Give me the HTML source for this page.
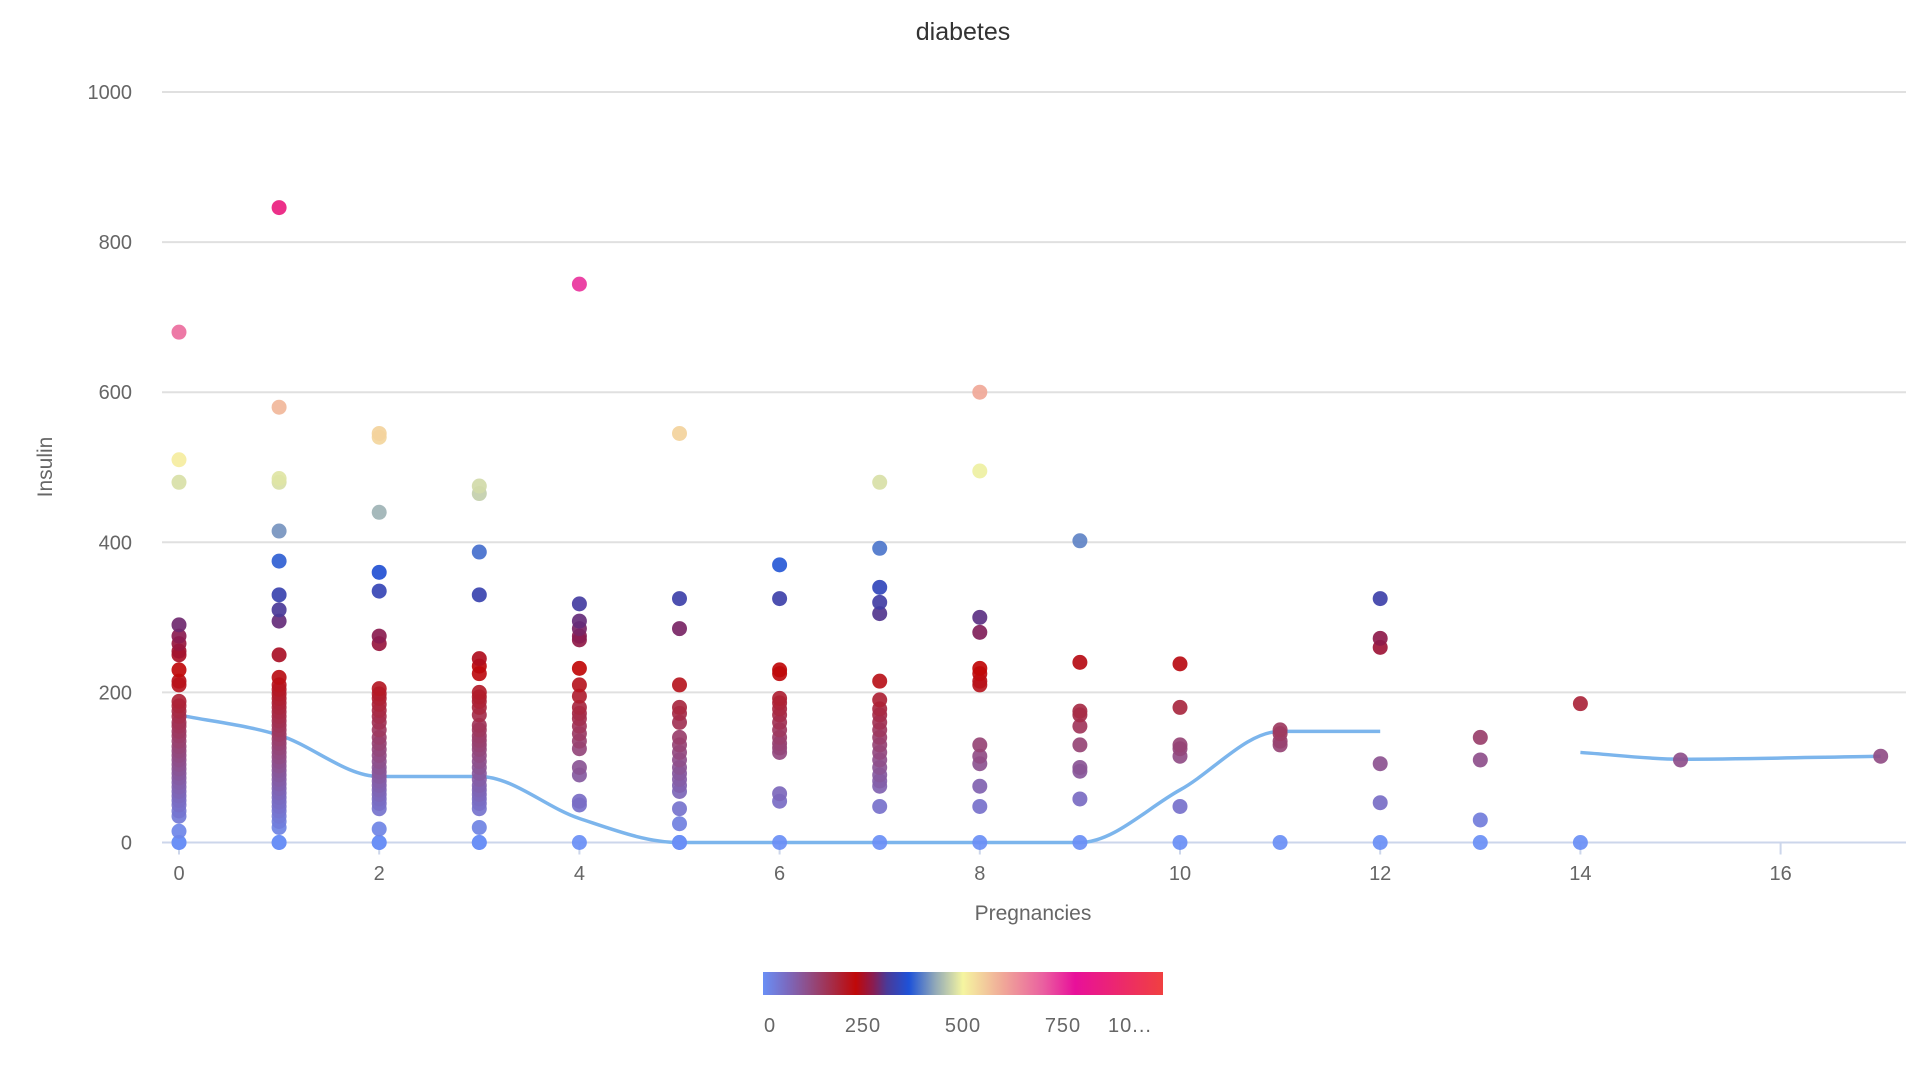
<!DOCTYPE html>
<html><head><meta charset="utf-8"><style>
html,body{margin:0;padding:0;background:#fff;width:1920px;height:1080px;overflow:hidden}
svg{display:block;font-family:"Liberation Sans","DejaVu Sans",sans-serif}
</style></head><body>
<svg id="chart" width="1920" height="1080">
<defs><linearGradient id="cb" x1="0" x2="1" y1="0" y2="0"></linearGradient></defs>
<text x="963" y="40" text-anchor="middle" font-size="25" fill="#333">diabetes</text>
<g id="grid"></g><g id="axes"></g><g id="line"></g><g id="pts"></g><g id="legend"></g>
<text x="1033" y="920" text-anchor="middle" font-size="21" fill="#666">Pregnancies</text>
<text transform="translate(52,467) rotate(-90)" text-anchor="middle" font-size="21" fill="#666">Insulin</text>
</svg>
<script>
const colPreg = [0,1,2,3,4,5,6,7,8,9,10,11,12,13,14,15,17];
const colInsulin = [
 [0,0,15,35,42,50,56,62,68,74,80,86,92,98,104,110,116,122,128,135,142,148,155,160,168,175,182,188,210,215,230,250,255,265,275,290,480,510,680],
 [0,0,20,28,35,42,48,54,60,66,72,78,84,90,96,102,108,114,120,126,132,138,144,150,156,162,168,174,180,186,192,198,204,210,220,250,295,310,330,375,415,480,485,580,846],
 [0,0,18,45,52,58,64,70,76,82,88,94,100,108,116,124,132,140,150,160,168,176,184,192,198,205,265,275,335,360,440,540,545],
 [0,0,20,45,52,58,64,70,76,84,92,100,108,116,124,130,136,142,150,156,170,180,188,194,200,225,235,245,330,387,465,475],
 [0,50,55,90,100,125,135,145,155,165,172,180,195,210,232,270,275,285,295,318,744],
 [0,0,25,45,68,76,84,92,100,110,120,130,140,160,172,180,210,285,325,545],
 [0,55,65,120,126,132,140,150,160,170,178,186,192,225,230,325,370],
 [0,48,75,82,90,100,110,120,130,140,150,160,170,178,190,215,305,320,340,392,480],
 [0,48,75,105,115,130,210,215,225,232,280,300,495,600],
 [0,58,95,100,130,155,170,175,240,402],
 [0,48,115,125,130,180,238],
 [0,130,135,145,150],
 [0,53,105,260,272,325],
 [0,30,110,140],
 [0,185],
 [110],
 [115]
];
const trendX = [0,1,2,3,4,5,6,7,8,9,10,11,12,null,14,15,17];
const trendY = [170,143,88,88,32,0,0,0,0,0,70,148,148,null,120,111,115];
const yTicks = [0,200,400,600,800,1000];
const xTicks = [0,2,4,6,8,10,12,14,16];
const cbLabels = ["0","250","500","750","10..."];
const cbValues = [0,250,500,750,1000];

const NS="http://www.w3.org/2000/svg";
const X0=179, XU=100.1, Y0=842.5, YU=0.7505;
const xs=v=>X0+v*XU, ys=v=>Y0-v*YU;
const stops=[[0,"#6a8ff5"],[60,"#7a6ac0"],[120,"#924a80"],[180,"#a82840"],[232,"#c00808"],[275,"#8a1c50"],[310,"#4a3a98"],[365,"#1e52d8"],[430,"#90a8b8"],[500,"#f5f5a0"],[600,"#f0a898"],[700,"#ea60a0"],[780,"#e8109a"],[1000,"#f04040"]];
function hex(h){return [1,3,5].map(i=>parseInt(h.substr(i,2),16));}
function color(v){
 for(let i=0;i<stops.length-1;i++){const a=stops[i],b=stops[i+1];
  if(v<=b[0]){const t=(v-a[0])/(b[0]-a[0]);const ca=hex(a[1]),cb=hex(b[1]);
   return "rgb("+ca.map((c,k)=>Math.round(c+(cb[k]-c)*t)).join(",")+")";}}
 return stops[stops.length-1][1];}
function mk(tag,attrs,parent){const e=document.createElementNS(NS,tag);for(const k in attrs)e.setAttribute(k,attrs[k]);parent.appendChild(e);return e;}

const grid=document.getElementById('grid'), axes=document.getElementById('axes');
yTicks.forEach(v=>{
 const l=mk('line',{x1:162,x2:1906,y1:ys(v),y2:ys(v),stroke:v===0?"#ccd6eb":"#e0e0e0","stroke-width":2},grid);
 
 
 const t=mk('text',{x:132,y:ys(v)+7,"text-anchor":"end","font-size":20,fill:"#666"},axes);
 t.textContent=v;
 
 
});
xTicks.forEach(v=>{
 const l=mk('line',{x1:xs(v),x2:xs(v),y1:Y0,y2:Y0+12,stroke:"#ccd6eb","stroke-width":2},axes);
 
 
 const t=mk('text',{x:xs(v),y:880,"text-anchor":"middle","font-size":20,fill:"#666"},axes);
 t.textContent=v;
 
 
});

const line=document.getElementById('line');
let segs=[],cur=[];
trendX.forEach((x,i)=>{if(x===null){if(cur.length)segs.push(cur);cur=[];}else cur.push([xs(x),ys(trendY[i])]);});
if(cur.length)segs.push(cur);
segs.forEach(p=>{
 const n=p.length;const d=[],m=[];
 for(let i=0;i<n-1;i++)d.push((p[i+1][1]-p[i][1])/(p[i+1][0]-p[i][0]));
 for(let i=0;i<n;i++){if(i===0)m.push(d[0]||0);else if(i===n-1)m.push(d[n-2]);else m.push(d[i-1]*d[i]<=0?0:(d[i-1]+d[i])/2);}
 let s="M"+p[0][0]+","+p[0][1];
 for(let i=0;i<n-1;i++){const h=(p[i+1][0]-p[i][0])/3;
  s+=" C"+(p[i][0]+h)+","+(p[i][1]+m[i]*h)+" "+(p[i+1][0]-h)+","+(p[i+1][1]-m[i+1]*h)+" "+p[i+1][0]+","+p[i+1][1];}
 const e=mk('path',{d:s,fill:"none",stroke:"#7cb5ec","stroke-width":3.5},line);
 
 
});

const pts=document.getElementById('pts');
colPreg.forEach((px,i)=>{
 colInsulin[i].forEach(v=>{
  const c=mk('circle',{cx:xs(px),cy:ys(v),r:7.5,fill:color(v),"fill-opacity":0.92},pts);
  
  
 });
});

const g=document.querySelector('#cb');
stops.forEach(s=>mk('stop',{offset:(s[0]/10)+"%","stop-color":s[1]},g));
const leg=document.getElementById('legend');
const r=mk('rect',{x:763,y:972,width:400,height:23,fill:"url(#cb)"},leg);


cbValues.forEach((v,i)=>{
 const t=mk('text',{x:i===4?1130:763+v*0.4+(i===0?7:0),y:1032,"text-anchor":"middle","font-size":20,fill:"#666","letter-spacing":"1"},leg);
 t.textContent=cbLabels[i];
 
 
});
</script>
</body></html>
